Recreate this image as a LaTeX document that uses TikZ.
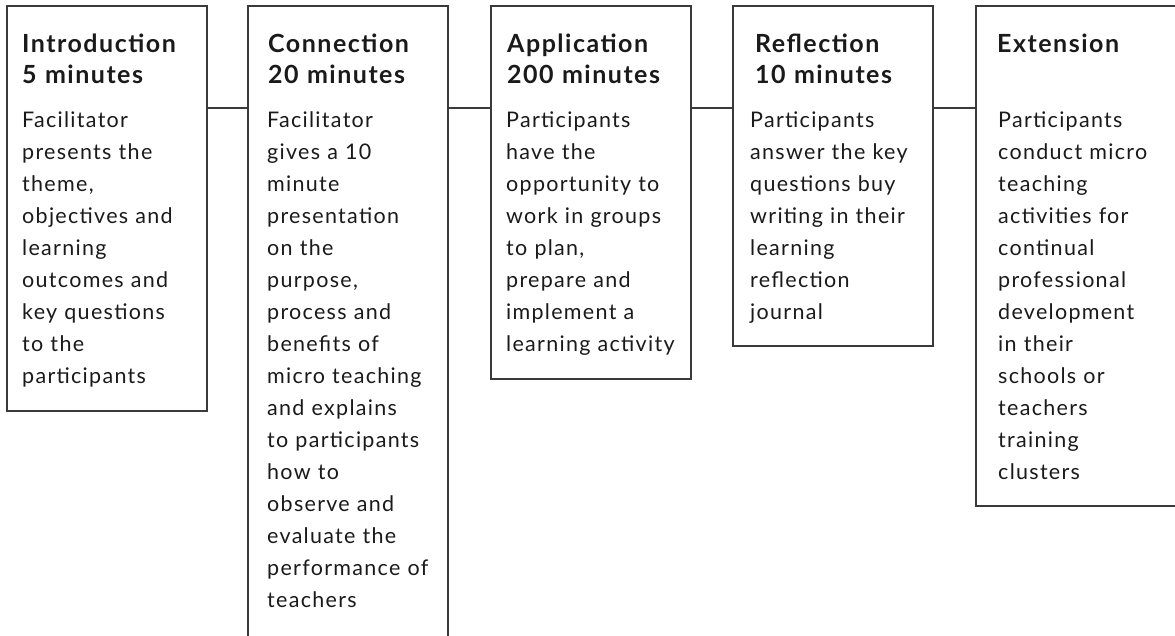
\documentclass[tikz,border=0pt]{standalone}
\usepackage{fontspec}
\setmainfont{Lato}[LetterSpace=6]
\definecolor{ink}{HTML}{1A1A1A}
\definecolor{linegray}{HTML}{3A3A3A}
\begin{document}
\begin{tikzpicture}[x=1pt,y=-1pt,
  stage/.style={draw=linegray, line width=1.3pt, anchor=north west,
    minimum width=200pt, inner sep=0pt, outer sep=0pt},
  head/.style={anchor=north west, inner sep=0pt, text width=200pt, align=left,
    font=\fontsize{25}{31}\selectfont\bfseries, text=ink},
  body/.style={anchor=north west, inner sep=0pt, text width=200pt, align=left,
    font=\fontsize{21.5}{32}\selectfont, text=ink},
  link/.style={draw=linegray, line width=1.3pt}]
\useasboundingbox (0,0) rectangle (1175,636);
\clip (0,0) rectangle (1175,636);

% stage boxes
\node[stage, minimum height=405pt] (b1) at (7,6) {};
\node[stage, minimum height=644pt] (b2) at (248,6) {};
\node[stage, minimum height=373pt] (b3) at (491,6) {};
\node[stage, minimum height=340pt] (b4) at (733,6) {};
\node[stage, minimum height=500pt] (b5) at (976,6) {};

% links between stages
\draw[link] ([yshift=-102pt]b1.north east) -- ([yshift=-102pt]b2.north west);
\draw[link] ([yshift=-102pt]b2.north east) -- ([yshift=-102pt]b3.north west);
\draw[link] ([yshift=-102pt]b3.north east) -- ([yshift=-102pt]b4.north west);
\draw[link] ([yshift=-102pt]b4.north east) -- ([yshift=-102pt]b5.north west);

% headings
\node[head] (h1) at ([xshift=15pt,yshift=-24.3pt]b1.north west) {\strut Introduction\\5 minutes};
\node[head] (h2) at ([xshift=20pt,yshift=-24.3pt]b2.north west) {\strut Connection\\20 minutes};
\node[head] (h3) at ([xshift=16pt,yshift=-24.3pt]b3.north west) {\strut Application\\200 minutes};
\node[head] (h4) at ([xshift=22pt,yshift=-24.3pt]b4.north west) {\strut Reflection\\10 minutes};
\node[head] (h5) at ([xshift=21pt,yshift=-24.3pt]b5.north west) {\strut Extension};

% descriptions
\node[body] (t1) at ([xshift=15pt,yshift=-98.6pt]b1.north west) {\strut Facilitator\\presents the\\theme,\\objectives and\\learning\\outcomes and\\key questions\\to the\\participants};
\node[body] (t2) at ([xshift=19pt,yshift=-98.6pt]b2.north west) {\strut Facilitator\\gives a 10\\minute\\presentation\\on the\\purpose,\\process and\\benefits of\\micro teaching\\and explains\\to participants\\how to\\observe and\\evaluate the\\performance of\\teachers};
\node[body] (t3) at ([xshift=15pt,yshift=-98.6pt]b3.north west) {\strut Participants\\have the\\opportunity to\\work in groups\\to plan,\\prepare and\\implement a\\learning activity};
\node[body] (t4) at ([xshift=17pt,yshift=-98.6pt]b4.north west) {\strut Participants\\answer the key\\questions buy\\writing in their\\learning\\reflection\\journal};
\node[body] (t5) at ([xshift=22pt,yshift=-98.6pt]b5.north west) {\strut Participants\\conduct micro\\teaching\\activities for\\continual\\professional\\development\\in their\\schools or\\teachers\\training\\clusters};
\end{tikzpicture}
\end{document}
